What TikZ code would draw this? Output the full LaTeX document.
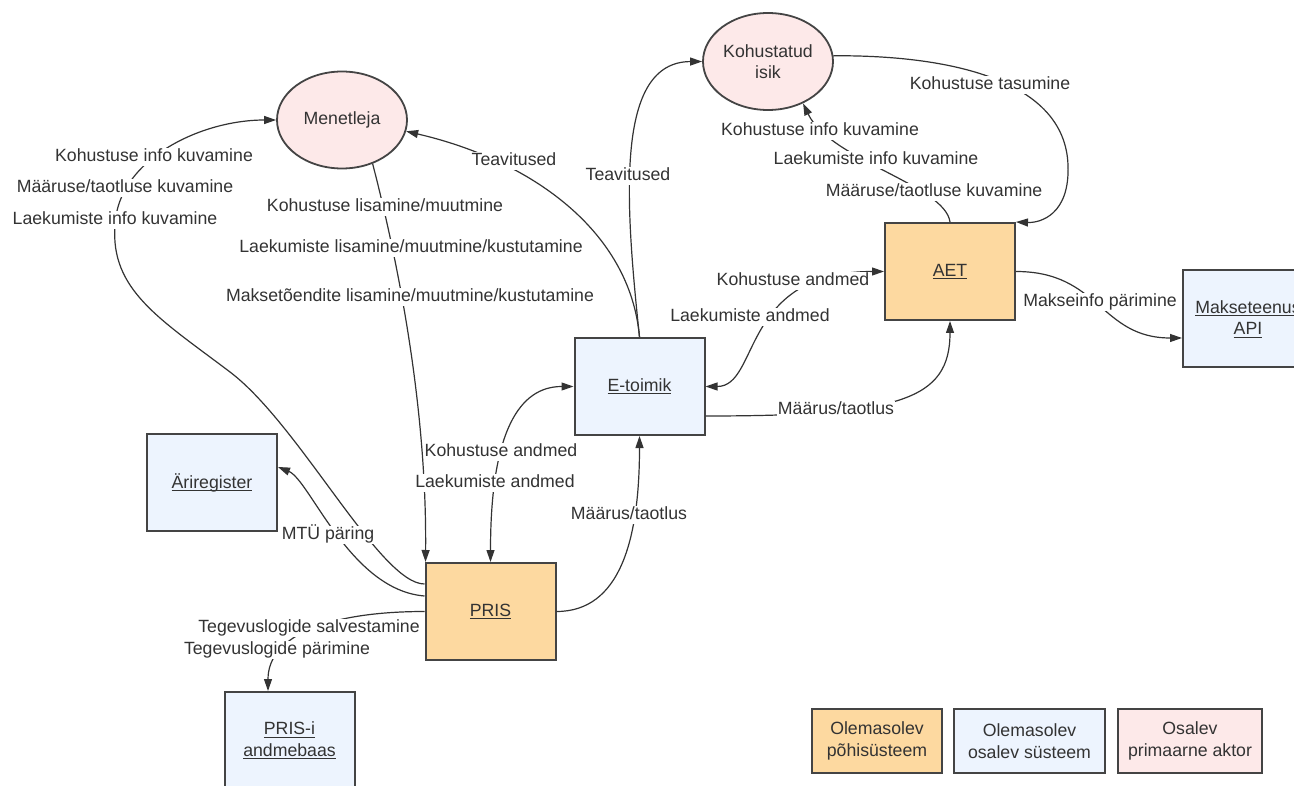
\documentclass[tikz,border=0pt]{standalone}
\usepackage{fontspec}
\setmainfont{Liberation Sans}
\usetikzlibrary{shapes.geometric,arrows.meta}
\definecolor{sysorange}{HTML}{FDD9A0}
\definecolor{sysblue}{HTML}{EDF4FE}
\definecolor{actpink}{HTML}{FDE9E9}
\definecolor{edge}{HTML}{444444}
\definecolor{txt}{HTML}{333333}
\def\sz{\fontsize{17.7}{21.5}\selectfont}
\def\tip{Triangle[length=12pt,width=8pt]}
\newcommand\und[1]{\setbox0=\hbox{#1}\leavevmode\rlap{\rule[-3pt]{\wd0}{1pt}}\box0}
\tikzset{
  sys/.style={draw=edge, line width=2pt, fill=#1, minimum width=130pt, minimum height=97pt,
    inner sep=0pt, align=center, text=txt, font=\sz},
  actor/.style={ellipse, draw=edge, line width=1.8pt, fill=actpink, minimum width=130pt,
    minimum height=97pt, inner sep=0pt, align=center, text=txt, font=\sz},
  key/.style={draw=edge, line width=1.6pt, minimum height=64pt, inner sep=0pt,
    align=center, text=txt, font=\sz},
  lbl/.style={fill=white, inner sep=1pt, text=txt, font=\sz, text height=12.7pt, text depth=3.7pt},
  flow/.style={draw=txt, line width=1.2pt, -{\tip}},
  flowb/.style={draw=txt, line width=1.2pt, {\tip}-{\tip}}
}

\begin{document}
\begin{tikzpicture}[x=1pt,y=-1pt]
\path[use as bounding box] (0,0) rectangle (1294,786);
\clip (0,0) rectangle (1294,786);

\node[actor] (M) at (342,120) {Menetleja};
\node[actor] (K) at (768,61.5) {Kohustatud\\isik};
\node[sys=sysorange] (AET) at (950,271.5) {\und{AET}};
\node[sys=sysblue] (ET) at (639.5,386.5) {\und{E-toimik}};
\node[sys=sysblue] (API) at (1248,319) {\und{Makseteenus}\\\und{API}};
\node[sys=sysblue] (AR) at (212,482.5) {\und{Äriregister}};
\node[sys=sysorange] (PRIS) at (490.5,611.5) {\und{PRIS}};
\node[sys=sysblue] (DB) at (289.5,740.5) {\und{PRIS-i}\\\und{andmebaas}};

\foreach \n/\x/\kw/\c/\t in {1/877/130/sysorange/{Olemasolev\\põhisüsteem},
  2/1029.5/151/sysblue/{Olemasolev\\osalev süsteem},
  3/1190/144/actpink/{Osalev\\primaarne aktor}}{
  \node[key, fill=\c, minimum width=\kw pt] (key\n) at (\x,741) {\t};
}

\draw[flow] ([yshift=27.5pt]PRIS.west) .. controls (380,584) and (300,425) .. (230,372)
  .. controls (160,319) and (110,290) .. (115,225) .. controls (118,160) and (200,120) .. (M.west);
\draw[flow] (M.-55) .. controls (395,250) and (427,400) .. ([xshift=1pt]PRIS.north west);
\draw[flow] (ET.north) .. controls (630,230) and (530,160) .. (M.-10);
\draw[flow] (ET.north) .. controls (625,200) and (615,62) .. (K.west);
\draw[flow] (K.5) .. controls (950,55) and (1065,80) .. (1068,165)
  .. controls (1070,215) and (1040,223) .. (AET.north east);
\draw[flow] (AET.north) .. controls (945,185) and (830,160) .. (K.-50);
\draw[flowb] (ET.east) .. controls (760,386.5) and (740,271.5) .. (AET.west);
\draw[flow] ([yshift=-29.5pt]ET.east) .. controls (900,416) and (950,400) .. (AET.south);
\draw[flow] (AET.east) .. controls (1100,271.5) and (1100,338) .. ([yshift=-19pt]API.west);
\draw[flowb] (PRIS.north) .. controls (490.5,430) and (520,386.5) .. (ET.west);
\draw[flow] (PRIS.east) .. controls (620,611.5) and (639.5,540) .. (ET.south);
\draw[flow] ([yshift=15.5pt]PRIS.west) .. controls (350,590) and (310,480) .. ([yshift=15.5pt]AR.east);
\draw[flow] (PRIS.west) .. controls (330,611.5) and (268,635) .. ([xshift=-21.5pt]DB.north);

\node[lbl] (mk1) at (154,157) {Kohustuse info kuvamine};
\node[lbl] (mk2) at (125,188) {Määruse/taotluse kuvamine};
\node[lbl] (mk3) at (115,220) {Laekumiste info kuvamine};
\node[lbl] (mp1) at (385,207) {Kohustuse lisamine/muutmine};
\node[lbl] (mp2) at (411,248) {Laekumiste lisamine/muutmine/kustutamine};
\node[lbl] (mp3) at (410,297) {Maksetõendite lisamine/muutmine/kustutamine};
\node[lbl] (tm) at (514,161) {Teavitused};
\node[lbl] (tk) at (628,176) {Teavitused};
\node[lbl] (kt) at (990,85) {Kohustuse tasumine};
\node[lbl] (kk1) at (820,131) {Kohustuse info kuvamine};
\node[lbl] (kk2) at (876,160) {Laekumiste info kuvamine};
\node[lbl] (kk3) at (934,192) {Määruse/taotluse kuvamine};
\node[lbl] (ea1) at (793,281) {Kohustuse andmed};
\node[lbl] (ea2) at (750,317) {Laekumiste andmed};
\node[lbl] (em) at (836,410) {Määrus/taotlus};
\node[lbl] (mi) at (1100,302) {Makseinfo pärimine};
\node[lbl] (pa1) at (501,452) {Kohustuse andmed};
\node[lbl] (pa2) at (495,483) {Laekumiste andmed};
\node[lbl] (pm) at (629,515) {Määrus/taotlus};
\node[lbl] (mtu) at (328,535) {MTÜ päring};
\node[lbl] (tl1) at (309,628) {Tegevuslogide salvestamine};
\node[lbl] (tl2) at (277,650) {Tegevuslogide pärimine};
\end{tikzpicture}
\end{document}
